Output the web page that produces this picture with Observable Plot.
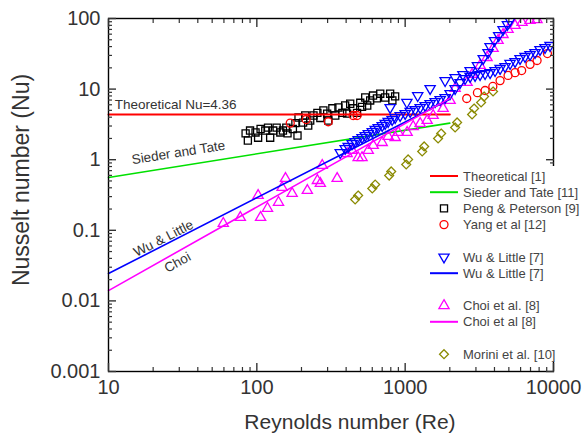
<!DOCTYPE html>
<html><head><meta charset="utf-8">
<script src="https://cdn.jsdelivr.net/npm/d3@7"></script>
<script src="https://cdn.jsdelivr.net/npm/@observablehq/plot@0.6"></script>
<style>
body{margin:0;background:#fff;font-family:"Liberation Sans",Arial,sans-serif;}
#wrap{position:relative;width:587px;height:443px;overflow:hidden;}
#legend{position:absolute;left:420px;top:166px;}
</style></head><body><div id="wrap"></div>
<script>
// ---- axis ticks and titles ----
const xTicks = [10, 100, 1000, 10000];
const xTickLabels = ["10", "100", "1000", "10000"];
const yTicks = [0.001, 0.01, 0.1, 1, 10, 100];
const yTickLabels = ["0.001", "0.01", "0.1", "1", "10", "100"];
const minorMult = [2, 3, 4, 5, 6, 7, 8, 9];
const xTitle = "Reynolds number (Re)";
const yTitle = "Nusselt number (Nu)";

// ---- correlation lines (endpoints, Re 10 .. 2000) ----
const lineRe = [10, 2000];
const theoreticalNu = [4.36, 4.36];
const siederTateNu = [0.56, 3.3];
const wuLittleLineNu = [0.0244, 7.2];
const choiLineNu = [0.014, 7.4];

// ---- Peng & Peterson [9] ----
const pengRe = [84, 90, 87, 98, 106, 102, 114, 119, 123, 129, 136, 144, 150, 158, 161, 175, 182, 188, 191, 205, 212, 222, 229, 241, 256, 268, 281, 298, 303, 323, 338, 355, 377, 394, 406, 426, 446, 474, 498, 512, 538, 555, 581, 607, 645, 679, 733, 792, 856, 820];
const pengNu = [2.36, 2.59, 1.87, 2.43, 2.72, 2.05, 2.59, 2.85, 2.05, 2.59, 2.85, 2.43, 2.59, 2.85, 2.36, 2.72, 3.3, 2.2, 3.96, 3.35, 4.23, 3.05, 3.59, 4.23, 4.6, 3.9, 4.98, 4.5, 3.59, 5.35, 4.23, 5.5, 4.6, 5.86, 4.5, 6.2, 5.35, 4.6, 6.4, 5.6, 7.6, 5.86, 6.9, 8.1, 7.4, 8.6, 7.6, 8.6, 7.9, 6.9];

// ---- Yang et al [12] ----
const yangRe = [168, 215, 303, 446, 474, 2600, 3070, 3457, 3900, 4363, 4940, 5505, 6100, 6947, 7750, 9100];
const yangNu = [3.3, 3.7, 3.45, 4.23, 4.23, 7.36, 8.9, 9.55, 10.9, 13.2, 15.6, 17.1, 18.3, 22.4, 25.4, 31.9];

// ---- Wu & Little [7] ----
const wuRe = [365, 394, 413, 439, 460, 482, 512, 538, 564, 600, 628, 658, 700, 733, 768, 817, 856, 925, 1000, 1081, 1168, 1262, 1364, 1473, 1592, 1721, 1859, 2009, 2171, 2346, 2535, 2740, 2960, 3199, 3457, 3736, 4037, 4363, 4714, 5094, 5505, 5949, 6429, 6947, 7507, 8112, 8767, 9474,
  792, 1027, 1215, 1473, 1859, 2171, 2450, 2740, 3070, 3360, 3620, 3736, 4000, 4270, 4570, 4890, 5094];
const wuNu = [1.26, 1.44, 1.54, 1.69, 1.81, 1.93, 2.06, 2.20, 2.35, 2.51, 2.68, 2.86, 3.05, 3.26, 3.48, 3.71, 3.96, 4.23, 4.51, 4.82, 5.14, 5.49, 5.86, 6.25, 6.67, 7.12, 7.60, 8.66, 10.2, 12.4, 14.1, 15.1, 15.6, 16.1, 16.6, 17.1, 18.3, 19.6, 20.9, 23.1, 24.6, 27.1, 29.0, 30.9, 33.0, 36.4, 38.8, 41.5,
  5.49, 6.5, 8.1, 10.2, 13.2, 14.6, 16.1, 18.3, 21.6, 27.1, 33.0, 40, 48.8, 57.4, 69.8, 82, 93.7];

// ---- Choi et al. [8] ----
const choiRe = [59.4, 77.4, 102, 106, 118, 140, 156, 148, 173, 219, 256, 268, 276, 348, 406, 439, 482, 512, 564, 609, 700, 768, 856, 898, 1031, 1132, 1262, 1406, 1544, 1803, 2009, 2171, 2615, 2825, 3199, 3565, 3915, 4230, 4570, 4940, 5505, 6135, 6947, 7740];
const choiNu = [0.125, 0.152, 0.311, 0.152, 0.204, 0.248, 0.542, 0.404, 0.332, 0.366, 0.507, 0.46, 0.828, 0.542, 1.22, 1.35, 1.07, 1.07, 1.35, 1.59, 1.75, 2.13, 2.06, 2.43, 2.43, 2.95, 3.26, 3.59, 4.23, 5.31, 6.90, 10.2, 12.4, 16.1, 21.6, 28.0, 37.6, 48.8, 59.3, 69.9, 79.6, 87.8, 93.7, 96];

// ---- Morini et al. [10] ----
const moriniRe = [460, 482, 600, 628, 780, 805, 1016, 1047, 1302, 1343, 1667, 1748, 2171, 2240, 2825, 2915, 3250, 3405, 3913];
const moriniNu = [0.273, 0.311, 0.391, 0.445, 0.597, 0.681, 0.855, 1.01, 1.31, 1.54, 2.0, 2.35, 2.86, 3.37, 4.37, 5.31, 6.46, 7.85, 9.25];

// ---- annotations ----
const noteTexts = ["Sieder and Tate", "Wu & Little", "Choi"];
const noteRe = [29.6, 23.5, 29.2];
const noteNu = [1.26, 0.0766, 0.035];
const noteRot = [-9, -27, -29];
const theoText = "Theoretical Nu=4.36";
const theoRe = 11, theoNu = 6.06;

// ---- legend ----
const legendLabels = ["Theoretical [1]", "Sieder and Tate [11]", "Peng & Peterson [9]", "Yang et al  [12]", "Wu & Little [7]", "Wu & Little [7]", "Choi et al. [8]", "Choi et al [8]", "Morini et al. [10]"];
const legendKinds = ["line", "line", "square", "circle", "down", "line", "triangle", "line", "diamond"];
const legendColors = ["#ff0000", "#00e000", "#000000", "#ff0000", "#0000ff", "#0000ff", "#ff00ff", "#ff00ff", "#8a8a00"];
const legendRows = [0, 1, 2, 3, 5, 6, 8, 9, 11];

// ---------------------------------------------------------------
const pts = (xs, ys) => xs.map((x, i) => ({Re: x, Nu: ys[i]}));
const downTriangle = {
  draw(context, size) {
    const y = -Math.sqrt(size / (Math.sqrt(3) * 3));
    context.moveTo(0, -y * 2);
    context.lineTo(-Math.sqrt(3) * y, y);
    context.lineTo(Math.sqrt(3) * y, y);
    context.closePath();
  }
};
const xMinor = xTicks.slice(0, -1).flatMap(t => minorMult.map(m => t * m));
const yMinor = yTicks.slice(0, -1).flatMap(t => minorMult.map(m => t * m));
const xLab = new Map(xTicks.map((t, i) => [t, xTickLabels[i]]));
const yLab = new Map(yTicks.map((t, i) => [t, yTickLabels[i]]));
const blank = () => "";
const font = '"Liberation Sans", Arial, sans-serif';
const gray = "#333";
const sw = 1.3;

const chart = Plot.plot({
  width: 587, height: 443,
  marginLeft: 108, marginRight: 34, marginTop: 18, marginBottom: 72,
  style: {fontFamily: font, background: "white", color: gray, overflow: "visible"},
  x: {type: "log", domain: [10, 10000]},
  y: {type: "log", domain: [0.001, 100]},
  marks: [
    Plot.dot(pts(pengRe, pengNu), {x: "Re", y: "Nu", symbol: "square", r: 4, stroke: "#000", strokeWidth: sw, fill: "none", clip: true}),
    Plot.dot(pts(yangRe, yangNu), {x: "Re", y: "Nu", symbol: "circle", r: 4, stroke: "#ff0000", strokeWidth: sw, fill: "none", clip: true}),
    Plot.line(pts(lineRe, theoreticalNu), {x: "Re", y: "Nu", stroke: "#ff0000", strokeWidth: 2}),
    Plot.line(pts(lineRe, siederTateNu), {x: "Re", y: "Nu", stroke: "#00e000", strokeWidth: 1.6}),
    Plot.dot(pts(moriniRe, moriniNu), {x: "Re", y: "Nu", symbol: "diamond2", r: 4, stroke: "#8a8a00", strokeWidth: sw, fill: "none", clip: true}),
    Plot.dot(pts(choiRe, choiNu), {x: "Re", y: "Nu", symbol: "triangle", r: 3.8, stroke: "#ff00ff", strokeWidth: sw, fill: "none", clip: true}),
    Plot.dot(pts(wuRe, wuNu), {x: "Re", y: "Nu", symbol: downTriangle, r: 3.8, stroke: "#0000ff", strokeWidth: sw, fill: "none", clip: true}),
    Plot.line(pts(lineRe, wuLittleLineNu), {x: "Re", y: "Nu", stroke: "#0000ff", strokeWidth: 1.6}),
    Plot.line(pts(lineRe, choiLineNu), {x: "Re", y: "Nu", stroke: "#ff00ff", strokeWidth: 1.6}),
    Plot.text([theoText], {x: theoRe, y: theoNu, textAnchor: "start", fontSize: 13.5, fill: gray}),
    Plot.text(noteTexts, {x: (d, i) => noteRe[i], y: (d, i) => noteNu[i], rotate: (d, i) => noteRot[i], text: d => d, fontSize: 13.5, fill: gray}),
    // frame and axes (ticks point inward)
    Plot.frame({stroke: "#000", strokeWidth: 1.4}),
    Plot.axisX(xMinor, {anchor: "bottom", tickSize: -4, tickFormat: blank, label: null, strokeWidth: 1.2}),
    Plot.axisX(xTicks, {anchor: "bottom", tickSize: -8, tickFormat: blank, label: null, strokeWidth: 1.4}),
    Plot.axisX(xMinor, {anchor: "top", tickSize: -4, tickFormat: blank, label: null, strokeWidth: 1.2}),
    Plot.axisX(xTicks, {anchor: "top", tickSize: -8, tickFormat: blank, label: null, strokeWidth: 1.4}),
    Plot.axisX(xTicks, {anchor: "bottom", tickSize: 0, tickPadding: 8, tickFormat: d => xLab.get(d), fontSize: 20, label: null, fill: gray}),
    Plot.axisY(yMinor, {anchor: "left", tickSize: -4, tickFormat: blank, label: null, strokeWidth: 1.2}),
    Plot.axisY(yTicks, {anchor: "left", tickSize: -8, tickFormat: blank, label: null, strokeWidth: 1.4}),
    Plot.axisY(yMinor, {anchor: "right", tickSize: -4, tickFormat: blank, label: null, strokeWidth: 1.2}),
    Plot.axisY(yTicks, {anchor: "right", tickSize: -8, tickFormat: blank, label: null, strokeWidth: 1.4}),
    Plot.axisY(yTicks, {anchor: "left", tickSize: 0, tickPadding: 8, tickFormat: d => yLab.get(d), fontSize: 20, label: null, fill: gray})
  ]
});
const wrap = document.getElementById("wrap");
wrap.appendChild(chart);

// axis titles
const root = d3.select(chart);
root.append("text").attr("x", 350).attr("y", 422).attr("text-anchor", "middle").attr("dy", "0.35em")
  .attr("font-size", 21).attr("fill", gray).attr("font-family", font).text(xTitle);
root.append("text").attr("transform", "translate(21,180) rotate(-90)").attr("text-anchor", "middle").attr("dy", "0.35em")
  .attr("font-size", 23).attr("fill", gray).attr("font-family", font).text(yTitle);

// legend overlay
const lw = 167, lh = 196, rowH = 16.2;
const svg = d3.select(wrap).append("svg").attr("id", "legend").attr("width", lw).attr("height", lh)
  .style("font-family", font);
svg.append("rect").attr("width", lw).attr("height", lh).attr("fill", "white");
const symType = {square: d3.symbolSquare, circle: d3.symbolCircle, triangle: d3.symbolTriangle, diamond: d3.symbolDiamond2, down: downTriangle};
legendLabels.forEach((lab, i) => {
  const y = 10 + legendRows[i] * rowH;
  const k = legendKinds[i], c = legendColors[i];
  if (k === "line") {
    svg.append("line").attr("x1", 10).attr("x2", 38).attr("y1", y).attr("y2", y).attr("stroke", c).attr("stroke-width", 2);
  } else {
    const r = (k === "triangle" || k === "down") ? 3.8 : 4;
    svg.append("path").attr("d", d3.symbol(symType[k], Math.PI * r * r)()).attr("transform", `translate(24,${y})`)
      .attr("fill", "none").attr("stroke", c).attr("stroke-width", sw);
  }
  svg.append("text").attr("x", 43).attr("y", y).attr("dy", "0.35em").attr("font-size", 13).attr("fill", "#444").text(lab);
});
</script></body></html>
